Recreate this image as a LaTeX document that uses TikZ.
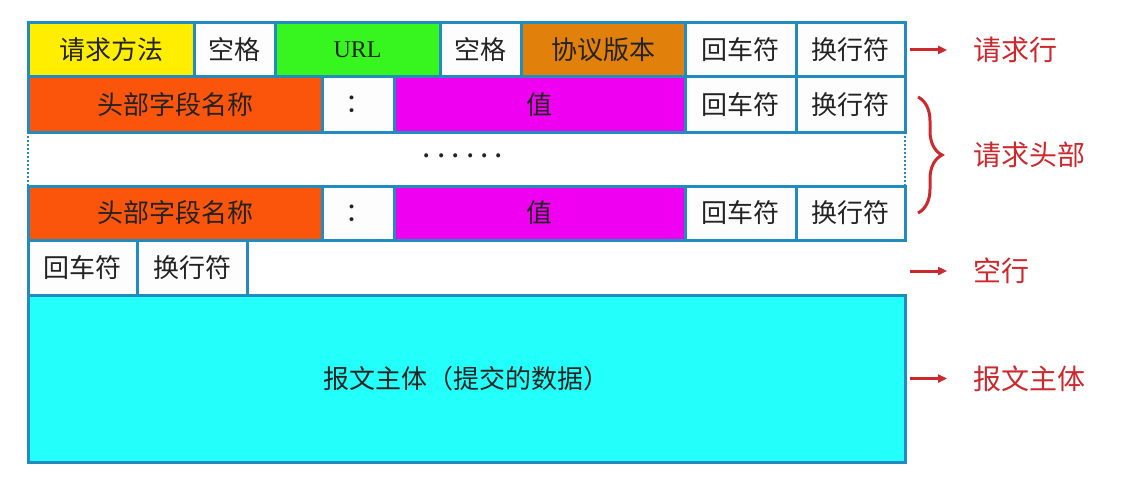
\documentclass[tikz,border=0pt]{standalone}
\usepackage{fontspec}
\newfontfamily\cjk{Noto Sans CJK SC}
\newfontfamily\urlfont{Liberation Serif}
\usetikzlibrary{arrows.meta,decorations.pathreplacing}
\definecolor{bord}{RGB}{35,140,190}
\definecolor{cyel}{RGB}{255,238,0}
\definecolor{cgrn}{RGB}{55,245,30}
\definecolor{cora}{RGB}{225,128,10}
\definecolor{cred}{RGB}{250,85,10}
\definecolor{cmag}{RGB}{240,0,240}
\definecolor{ccya}{RGB}{35,255,250}
\definecolor{cwht}{RGB}{252,253,252}
\definecolor{txt}{RGB}{35,35,35}
\definecolor{lred}{RGB}{205,40,45}
\newcommand\mkcell[7]{\node[cell, fill=#6, minimum width={(#4-#2)*1pt}, minimum height={(#5-#3)*1pt}] (#1) at ({(#2+#4)/2},{(#3+#5)/2}) {#7};}
\begin{document}
\begin{tikzpicture}[x=1pt,y=-1pt,
  cell/.style={draw=bord, line width=3pt, inner sep=0pt, outer sep=0pt, text=txt, font=\cjk\fontsize{26}{30}\selectfont},
  lbl/.style={anchor=west, inner sep=0pt, text=lred, font=\cjk\fontsize{28}{32}\selectfont},
  arr/.style={draw=lred, line width=3pt, -{Triangle[length=9pt,width=8pt]}},
  dotline/.style={draw=bord, line width=2pt, dotted}]
\useasboundingbox (0,0) rectangle (1126,484);
% row 1
\mkcell{meth}{28}{23}{194}{77}{cyel}{请求方法}
\mkcell{sp1}{194}{23}{275}{77}{cwht}{空格}
\mkcell{url}{275}{23}{440}{77}{cgrn}{\urlfont\fontsize{24}{28}\selectfont URL}
\mkcell{sp2}{440}{23}{521}{77}{cwht}{空格}
\mkcell{ver}{521}{23}{685}{77}{cora}{协议版本}
\mkcell{cra}{685}{23}{796}{77}{cwht}{回车符}
\mkcell{lfa}{796}{23}{905}{77}{cwht}{换行符}
% row 2
\mkcell{hna}{28}{77}{322}{132}{cred}{头部字段名称}
\mkcell{cola}{322}{77}{394}{132}{cwht}{：}
\mkcell{vala}{394}{77}{685}{132}{cmag}{值}
\mkcell{crb}{685}{77}{796}{132}{cwht}{回车符}
\mkcell{lfb}{796}{77}{905}{132}{cwht}{换行符}
% row 3
\mkcell{hnb}{28}{186}{322}{240}{cred}{头部字段名称}
\mkcell{colb}{322}{186}{394}{240}{cwht}{：}
\mkcell{valb}{394}{186}{685}{240}{cmag}{值}
\mkcell{crc}{685}{186}{796}{240}{cwht}{回车符}
\mkcell{lfc}{796}{186}{905}{240}{cwht}{换行符}
% row 4
\mkcell{crd}{28}{240}{137}{295}{cwht}{回车符}
\mkcell{lfd}{137}{240}{247}{295}{cwht}{换行符}
% body
\mkcell{body}{28}{295}{905}{462}{ccya}{报文主体（提交的数据）}
% dotted sides
\draw[dotline] (hna.south west) -- (hnb.north west);
\draw[dotline] (lfb.south east) -- (lfc.north east);
\node[text=txt, font=\cjk\fontsize{30}{34}\selectfont, inner sep=0pt] (dots) at (463,156) {.\kern6pt.\kern6pt.\kern6pt.\kern6pt.\kern6pt.};
% labels
\node[lbl] (l1) at (973,50) {请求行};
\node[lbl] (l2) at (973,155) {请求头部};
\node[lbl] (l3) at (973,271) {空行};
\node[lbl] (l4) at (973,378.5) {报文主体};
\draw[arr] ([xshift=5pt]lfa.east) -- ([xshift=-26pt]l1.west);
\draw[arr] ([xshift=-63pt]l3.west) -- ([xshift=-26pt]l3.west);
\draw[arr] ([xshift=5pt]body.east) -- ([xshift=-26pt]l4.west);
\coordinate (bt) at (918,97);
\coordinate (bb) at (918,213);
\draw[draw=lred, line width=3pt, decorate, decoration={brace, amplitude=24pt}] (bt) -- (bb);
\end{tikzpicture}
\end{document}
